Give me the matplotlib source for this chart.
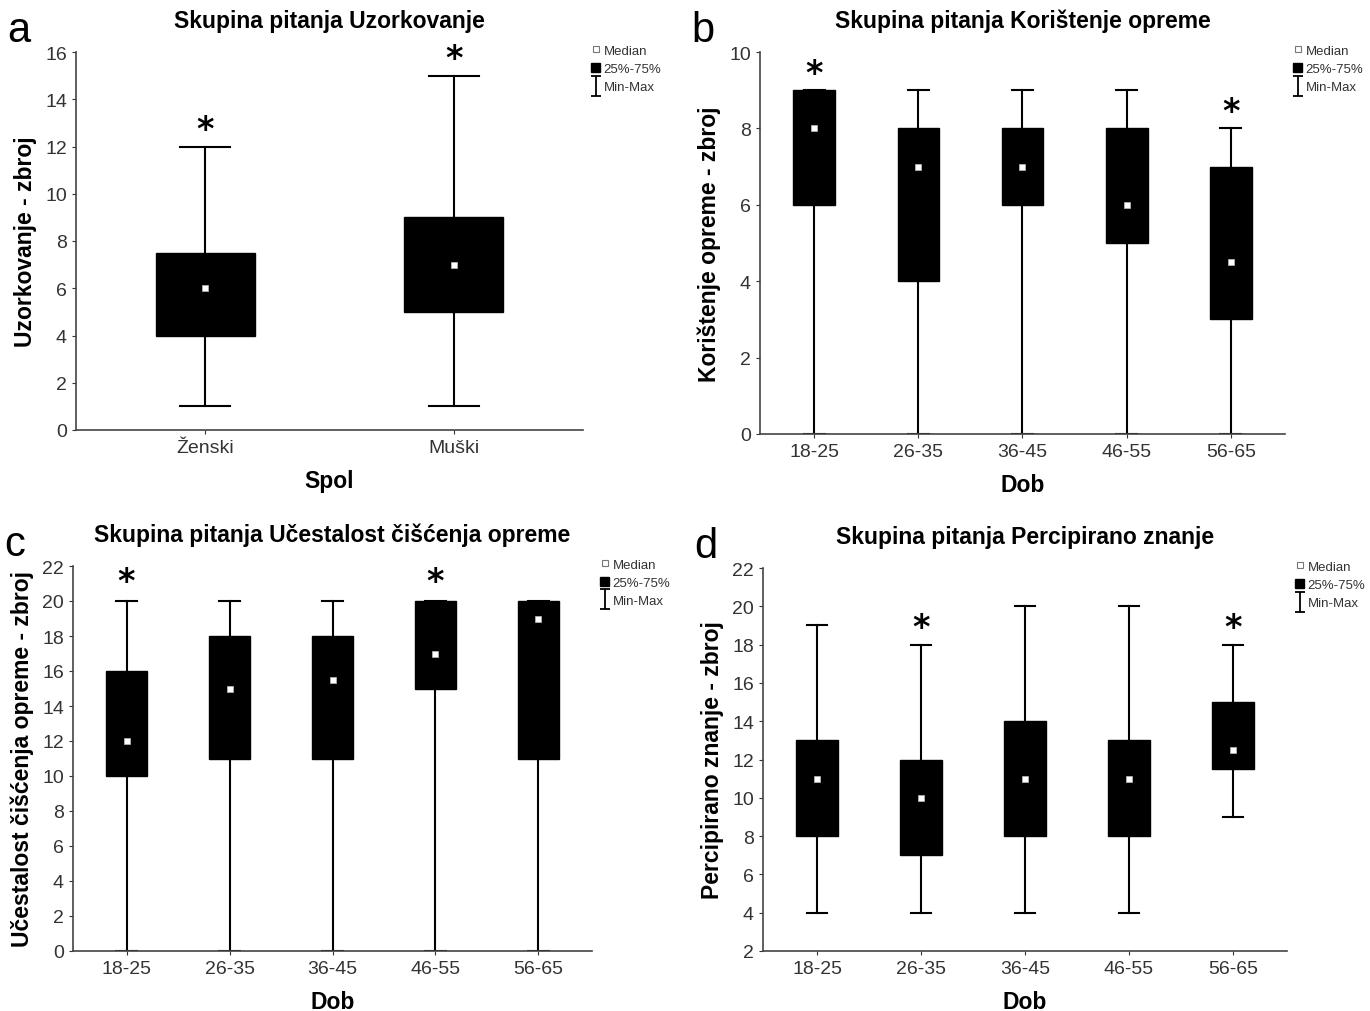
import matplotlib
matplotlib.use("Agg")
import matplotlib.pyplot as plt
from matplotlib.lines import Line2D
from matplotlib.patches import Patch
from matplotlib.path import Path

plt.rcParams['font.family'] = ['Liberation Sans', 'DejaVu Sans']

# ---- data ----
spol = ['Ženski', 'Muški']
a_min = [1, 1]
a_q1 = [4, 5]
a_med = [6, 7]
a_q3 = [7.5, 9]
a_max = [12, 15]
a_star = [0, 1]

dob = ['18-25', '26-35', '36-45', '46-55', '56-65']
b_min = [0, 0, 0, 0, 0]
b_q1 = [6, 4, 6, 5, 3]
b_med = [8, 7, 7, 6, 4.5]
b_q3 = [9, 8, 8, 8, 7]
b_max = [9, 9, 9, 9, 8]
b_star = [0, 4]

c_min = [0, 0, 0, 0, 0]
c_q1 = [10, 11, 11, 15, 11]
c_med = [12, 15, 15.5, 17, 19]
c_q3 = [16, 18, 18, 20, 20]
c_max = [20, 20, 20, 20, 20]
c_star = [0, 3]

d_min = [4, 4, 4, 4, 9]
d_q1 = [8, 7, 8, 8, 11.5]
d_med = [11, 10, 11, 11, 12.5]
d_q3 = [13, 12, 14, 13, 15]
d_max = [19, 18, 20, 20, 18]
d_star = [1, 4]

W, H = 1370, 1012
fig = plt.figure(figsize=(W / 100, H / 100), dpi=100)

# I-beam marker for the Min-Max legend entry
ibeam = Path([(-0.5, -1), (0.5, -1), (0, -1), (0, 1), (-0.5, 1), (0.5, 1)],
             [Path.MOVETO, Path.LINETO, Path.MOVETO, Path.LINETO, Path.MOVETO, Path.LINETO])


def panel(rect, letter, title, cats, mn, q1, med, q3, mx, stars,
          ylim, yticks, ylabel, xlabel, star_off):
    ax = fig.add_axes(rect)
    stats = []
    for i in range(len(cats)):
        stats.append(dict(med=med[i], q1=q1[i], q3=q3[i], whislo=mn[i], whishi=mx[i], fliers=[]))
    pos = list(range(len(cats)))
    ax.bxp(stats, positions=pos, widths=0.4, patch_artist=True, showfliers=False,
           boxprops=dict(facecolor='black', edgecolor='black', linewidth=1),
           whiskerprops=dict(color='black', linewidth=1.5),
           capprops=dict(color='black', linewidth=1.5),
           medianprops=dict(linewidth=0), capwidths=0.2, zorder=2)
    ax.scatter(pos, med, marker='s', s=14, facecolor='white', edgecolor='#bbbbbb',
               linewidth=0.5, zorder=5)
    for i in stars:
        ax.annotate('*', (i, mx[i]), xytext=(0, star_off), textcoords='offset points',
                    ha='center', va='center', fontsize=24, fontweight='bold',
                    family=['DejaVu Sans'])
    ax.set_xlim(-0.52, len(cats) - 0.48)
    ax.set_ylim(*ylim)
    ax.set_yticks(yticks)
    ax.set_xticks(pos)
    ax.set_xticklabels(cats)
    for s in ['top', 'right']:
        ax.spines[s].set_visible(False)
    for s in ['left', 'bottom']:
        ax.spines[s].set_color('#444444')
        ax.spines[s].set_linewidth(1.2)
    ax.tick_params(labelsize=14, colors='#333333', length=3, width=0.8)
    ax.set_title(title, fontsize=16.5, fontweight='bold', pad=18)
    ax.set_ylabel(ylabel, fontsize=16.5, fontweight='bold', labelpad=6)
    ax.set_xlabel(xlabel, fontsize=16.5, fontweight='bold', labelpad=9)
    handles = [
        Line2D([], [], marker='s', ls='none', mfc='white', mec='#777777', ms=5, mew=0.8),
        Patch(facecolor='black', edgecolor='black'),
        Line2D([], [], marker=ibeam, ls='none', color='black', ms=14, mew=1.3),
    ]
    ax.legend(handles, ['Median', '25%-75%', 'Min-Max'], loc='upper left',
              bbox_to_anchor=(1.0, 1.04), frameon=False, fontsize=9.5,
              handlelength=0.7, handletextpad=0.25, labelspacing=0.45,
              borderaxespad=0.2, labelcolor='#333333')
    fig.text(rect[0] - 0.05, rect[1] + rect[3] + 0.022, letter, fontsize=30,
             va='center', ha='left')
    return ax


panel([76 / W, 581 / H, 507 / W, 378 / H], 'a', 'Skupina pitanja Uzorkovanje',
      spol, a_min, a_q1, a_med, a_q3, a_max, a_star,
      (0, 16), range(0, 17, 2), 'Uzorkovanje - zbroj', 'Spol', 12)
panel([760 / W, 577 / H, 525 / W, 382 / H], 'b', 'Skupina pitanja Korištenje opreme',
      dob, b_min, b_q1, b_med, b_q3, b_max, b_star,
      (0, 10), range(0, 11, 2), 'Korištenje opreme - zbroj', 'Dob', 12)
panel([73 / W, 60 / H, 519 / W, 385 / H], 'c', 'Skupina pitanja Učestalost čišćenja opreme',
      dob, c_min, c_q1, c_med, c_q3, c_max, c_star,
      (0, 22), range(0, 23, 2), 'Učestalost čišćenja opreme - zbroj', 'Dob', 14)
panel([763 / W, 60 / H, 524 / W, 383 / H], 'd', 'Skupina pitanja Percipirano znanje',
      dob, d_min, d_q1, d_med, d_q3, d_max, d_star,
      (2, 22), range(2, 23, 2), 'Percipirano znanje - zbroj', 'Dob', 12)

fig.savefig('out.png', dpi=100)
